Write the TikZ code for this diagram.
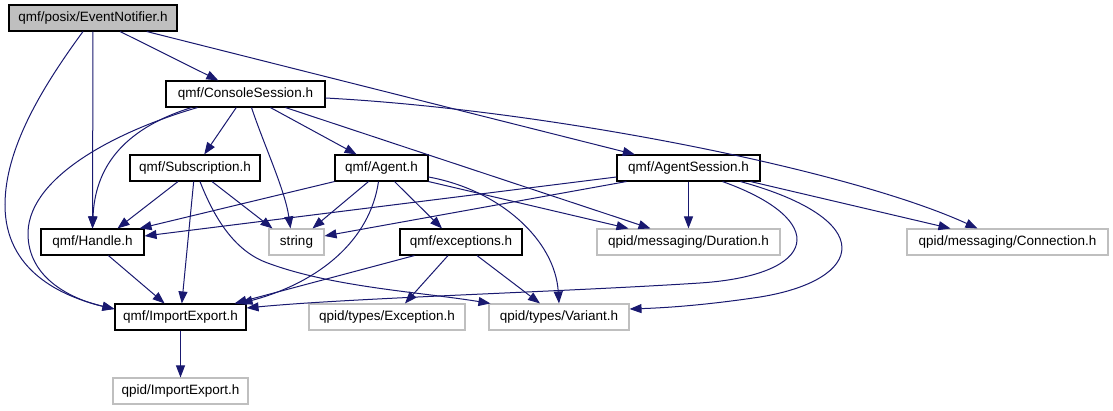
\documentclass[tikz,border=0pt]{standalone}
\usepackage{fontspec}
\setmainfont{Liberation Sans}
\usepackage{xcolor}
\usepackage{tikz}
\usetikzlibrary{arrows.meta}

\definecolor{edgeblue}{HTML}{191970}
\definecolor{extgrey}{HTML}{BFBFBF}

\begin{document}
\begin{tikzpicture}[x=1pt,y=-1pt,>={Triangle[length=12pt,width=9pt]},
  box/.style={draw,line width=1.1pt,minimum height=26,inner sep=0pt,font=\fontsize{13.5}{16}\selectfont},
  hdr/.style={box,draw=black},
  ext/.style={box,draw=extgrey},
  cur/.style={box,draw=black,fill=extgrey},
  edge/.style={->,color=edgeblue,line width=1pt}]
  \fill[white] (0,0) rectangle (1113,411);
  \useasboundingbox (0,0) rectangle (1113,411);

  % headers
  \node[cur,minimum width=168] (notifier)   at (93,18)     {qmf/posix/EventNotifier.h};
  \node[hdr,minimum width=159] (console)    at (245.5,94)  {qmf/ConsoleSession.h};
  \node[hdr,minimum width=130] (subscr)     at (195,168)   {qmf/Subscription.h};
  \node[hdr,minimum width=93]  (agent)      at (381.5,168) {qmf/Agent.h};
  \node[hdr,minimum width=143] (agentsess)  at (688.5,168) {qmf/AgentSession.h};
  \node[hdr,minimum width=103] (handle)     at (92.5,242)  {qmf/Handle.h};
  \node[ext,minimum width=55]  (string)     at (296.5,242) {string};
  \node[hdr,minimum width=122] (exceptions) at (461,242)   {qmf/exceptions.h};
  \node[ext,minimum width=183] (duration)   at (688.5,242) {qpid/messaging/Duration.h};
  \node[ext,minimum width=201] (connection) at (1007.5,242) {qpid/messaging/Connection.h};
  \node[hdr,minimum width=131] (qmfie)      at (180.5,317) {qmf/ImportExport.h};
  \node[ext,minimum width=156] (exception)  at (387,317)   {qpid/types/Exception.h};
  \node[ext,minimum width=140] (variant)    at (559,317)   {qpid/types/Variant.h};
  \node[ext,minimum width=135] (qpidie)     at (180.5,391) {qpid/ImportExport.h};

  % includes
  \draw[edge] ([xshift=-10pt]notifier.south) .. controls (40,90) and (5,150) .. (5,205) .. controls (5,270) and (60,296) .. ([yshift=8pt]qmfie.west);
  \draw[edge] (notifier) -- (handle);
  \draw[edge] (notifier) -- (console);
  \draw[edge] (notifier) -- (agentsess);

  \draw[edge] ([xshift=-54pt]console.south) .. controls (120,130) and (95,170) .. (handle.north);
  \draw[edge] ([xshift=-48pt]console.south) .. controls (120,130) and (30,175) .. (28,232) .. controls (27,280) and (75,300) .. ([yshift=8pt]qmfie.west);
  \draw[edge] (console) -- (subscr);
  \draw[edge] ([xshift=6pt]console.south) .. controls (264,145) and (285,190) .. ([xshift=-6pt]string.north);
  \draw[edge] (console) -- (agent);
  \draw[edge] ([xshift=40pt]console.south) -- ([xshift=-38pt]duration.north);
  \draw[edge] ([yshift=-4pt]console.east) .. controls (550,110) and (850,170) .. ([xshift=-30pt]connection.north);

  \draw[edge] ([xshift=-17pt]subscr.south) -- ([xshift=25pt]handle.north);
  \draw[edge] ([xshift=17pt]subscr.south) -- ([xshift=-24pt]string.north);
  \draw[edge] (subscr) -- (qmfie);
  \draw[edge] ([xshift=5pt]subscr.south) .. controls (215,220) and (235,250) .. (265,262) .. controls (330,287) and (420,292) .. ([xshift=2pt]variant.north west);

  \draw[edge] (agent.south west) -- ([xshift=-5pt]handle.north east);
  \draw[edge] ([xshift=-13pt]agent.south) -- ([xshift=16pt]string.north);
  \draw[edge] ([xshift=-3pt]agent.south) .. controls (370,240) and (320,282) .. ([xshift=-6pt]qmfie.north east);
  \draw[edge] ([xshift=13pt]agent.south) -- ([xshift=-19pt]exceptions.north);
  \draw[edge] ([yshift=-9pt]agent.east) .. controls (500,190) and (555,240) .. (variant.north);
  \draw[edge] (agent.south east) -- ([xshift=-60pt]duration.north);

  \draw[edge] ([yshift=-9pt]agentsess.west) -- ([yshift=6pt]handle.east);
  \draw[edge] ([xshift=10pt]agentsess.south west) -- ([yshift=6pt]string.east);
  \draw[edge] (agentsess) -- (duration);
  \draw[edge] ([xshift=34pt]agentsess.south) .. controls (830,220) and (820,275) .. (700,283) .. controls (560,292) and (350,298) .. ([yshift=9pt]qmfie.east);
  \draw[edge] ([xshift=52pt]agentsess.south) .. controls (880,220) and (865,280) .. (760,297) .. controls (700,306) and (660,308) .. ([yshift=8pt]variant.east);
  \draw[edge] ([xshift=-10pt]agentsess.south east) -- ([xshift=-57pt]connection.north);

  \draw[edge] (handle) -- (qmfie);
  \draw[edge] ([xshift=15pt]exceptions.south west) -- ([xshift=-12pt]qmfie.north east);
  \draw[edge] ([xshift=-13pt]exceptions.south) -- ([xshift=18pt]exception.north);
  \draw[edge] ([xshift=16pt]exceptions.south) -- ([xshift=-19pt]variant.north);
  \draw[edge] (qmfie) -- (qpidie);
\end{tikzpicture}
\end{document}
